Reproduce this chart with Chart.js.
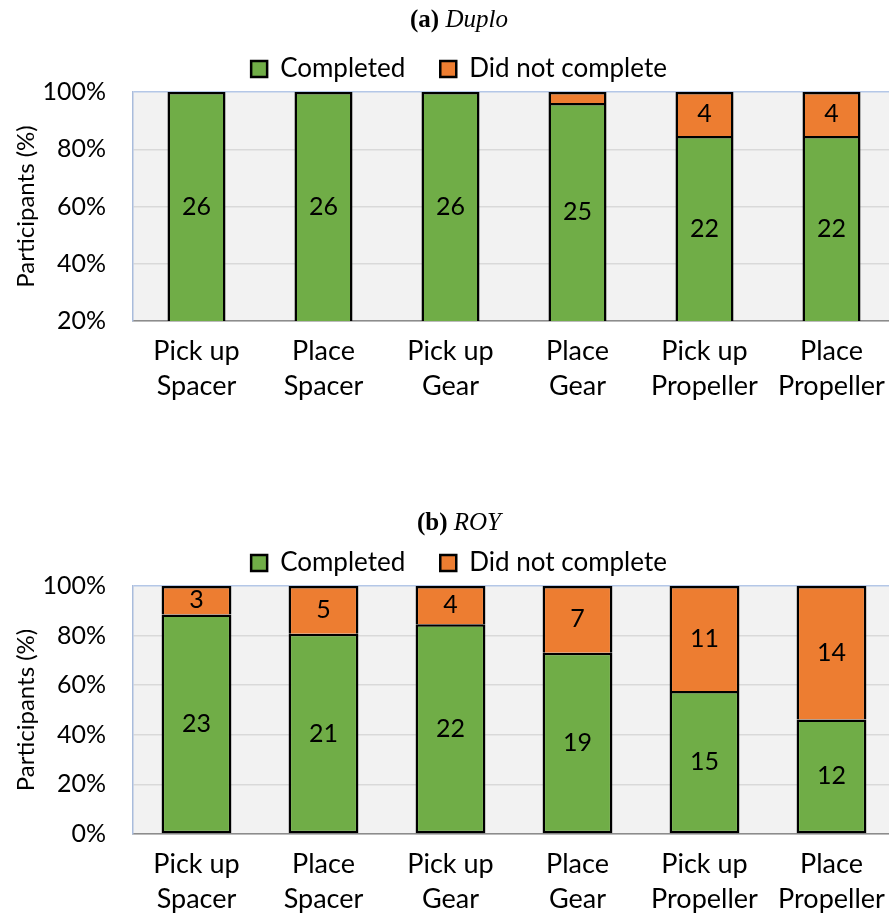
<!DOCTYPE html>
<html>
<head>
<meta charset="utf-8">
<script src="https://cdn.jsdelivr.net/npm/chart.js@4"></script>
<style>
    body { margin: 0; width: 889px; height: 918px; overflow: hidden; position: relative; background: #fff; }
    .title { position: absolute; left: 0; width: 918px; text-align: center; font-family: 'Liberation Serif', serif; font-size: 25px; line-height: 29px; color: #000; z-index: 2; }
    .wrap { position: absolute; left: 0; width: 889px; overflow: hidden; z-index: 1; }
    canvas { display: block; }
</style>
</head>
<body>
<div class="title" style="top:4px"><b>(a)</b> <i>Duplo</i></div>
<div class="wrap" style="top:21px;height:394px"><canvas id="duplo-chart" width="920" height="394"></canvas></div>
<div class="title" style="top:507px"><b>(b)</b> <i>ROY</i></div>
<div class="wrap" style="top:515px;height:403px"><canvas id="roy-chart" width="920" height="403"></canvas></div>

<script>
const tasks = [
    ['Pick up', 'Spacer'],
    ['Place', 'Spacer'],
    ['Pick up', 'Gear'],
    ['Place', 'Gear'],
    ['Pick up', 'Propeller'],
    ['Place', 'Propeller']
];

// participant counts per task
const duploCompleted = [26, 26, 26, 25, 22, 22];
const duploNotCompleted = [0, 0, 0, 1, 4, 4];
const royCompleted = [23, 21, 22, 19, 15, 12];
const royNotCompleted = [3, 5, 4, 7, 11, 14];

const GREEN = '#70ad47';
const ORANGE = '#ed7d31';
const FONT = 'Lato';

Chart.defaults.color = '#000';
Chart.defaults.font.family = FONT;
Chart.defaults.font.size = 25;

function toPercent(counts, others) {
    return counts.map((c, i) => c / (c + others[i]) * 100);
}

/**
 * Plugins
 */
const plotBackground = {
    id: 'plotBackground',
    beforeDraw(chart) {
        const {ctx, chartArea} = chart;
        ctx.save();
        ctx.fillStyle = '#f2f2f2';
        ctx.fillRect(chartArea.left, chartArea.top, chartArea.right - chartArea.left, chartArea.bottom - chartArea.top);
        ctx.restore();
    }
};

const segmentLabels = {
    id: 'segmentLabels',
    afterDatasetsDraw(chart) {
        const {ctx, chartArea} = chart;
        ctx.save();
        ctx.font = '25px ' + FONT;
        ctx.fillStyle = '#000';
        ctx.textAlign = 'center';
        ctx.textBaseline = 'middle';
        chart.data.datasets.forEach((dataset, i) => {
            chart.getDatasetMeta(i).data.forEach((bar, j) => {
                const top = Math.max(bar.y, chartArea.top);
                const bottom = Math.min(bar.base, chartArea.bottom);
                if (bottom - top < 24) return;
                ctx.fillText(dataset.counts[j], bar.x, (top + bottom) / 2);
            });
        });
        ctx.restore();
    }
};

function initChart(id, completed, notCompleted, yMin, barPercentage, xHeight) {
    const ctx = document.getElementById(id);

    return new Chart(ctx, {
        type: 'bar',
        data: {
            labels: tasks,
            datasets: [
                {
                    label: 'Completed',
                    counts: completed,
                    data: toPercent(completed, notCompleted),
                    backgroundColor: GREEN,
                    borderSkipped: false
                },
                {
                    label: 'Did not complete',
                    counts: notCompleted,
                    data: toPercent(notCompleted, completed),
                    backgroundColor: ORANGE,
                    borderSkipped: 'start'
                }
            ]
        },
        options: {
            responsive: false,
            animation: false,
            layout: {
                padding: { left: 23, right: 25, top: 0, bottom: 0 }
            },
            datasets: {
                bar: {
                    borderColor: '#000',
                    borderWidth: 2.5,
                    inflateAmount: 0,
                    barPercentage: barPercentage,
                    categoryPercentage: 1
                }
            },
            plugins: {
                legend: {
                    position: 'top',
                    labels: {
                        boxWidth: 16,
                        boxHeight: 16,
                        padding: 35,
                        font: { size: 26 }
                    }
                },
                tooltip: { enabled: false }
            },
            scales: {
                x: {
                    stacked: true,
                    grid: { display: false, drawTicks: false },
                    border: { color: '#8c8c8c', width: 1.5 },
                    ticks: {
                        padding: 12,
                        maxRotation: 0,
                        autoSkip: false,
                        font: { size: 27, lineHeight: 1.32 }
                    },
                    afterFit: scale => { scale.height = xHeight; }
                },
                y: {
                    stacked: true,
                    min: yMin,
                    max: 100,
                    grid: {
                        drawTicks: false,
                        color: c => c.tick && c.tick.value === 100 ? '#b4c7e7' : '#d9d9d9',
                        lineWidth: 1.5
                    },
                    border: { color: '#a9bcdc', width: 1.5 },
                    ticks: {
                        stepSize: 20,
                        padding: 27,
                        callback: v => v + '%',
                        font: { size: 25 }
                    },
                    title: {
                        display: true,
                        text: 'Participants (%)',
                        padding: { top: -11, bottom: 0 },
                        font: { size: 24, lineHeight: 1.2 }
                    },
                    afterFit: scale => { scale.width = 110; }
                }
            }
        },
        plugins: [plotBackground, segmentLabels]
    });
}

document.fonts.load('25px ' + FONT).finally(() => {
    initChart('duplo-chart', duploCompleted, duploNotCompleted, 20, 0.457, 94);
    initChart('roy-chart', royCompleted, royNotCompleted, 0, 0.55, 84);
});
</script>
</body>
</html>
